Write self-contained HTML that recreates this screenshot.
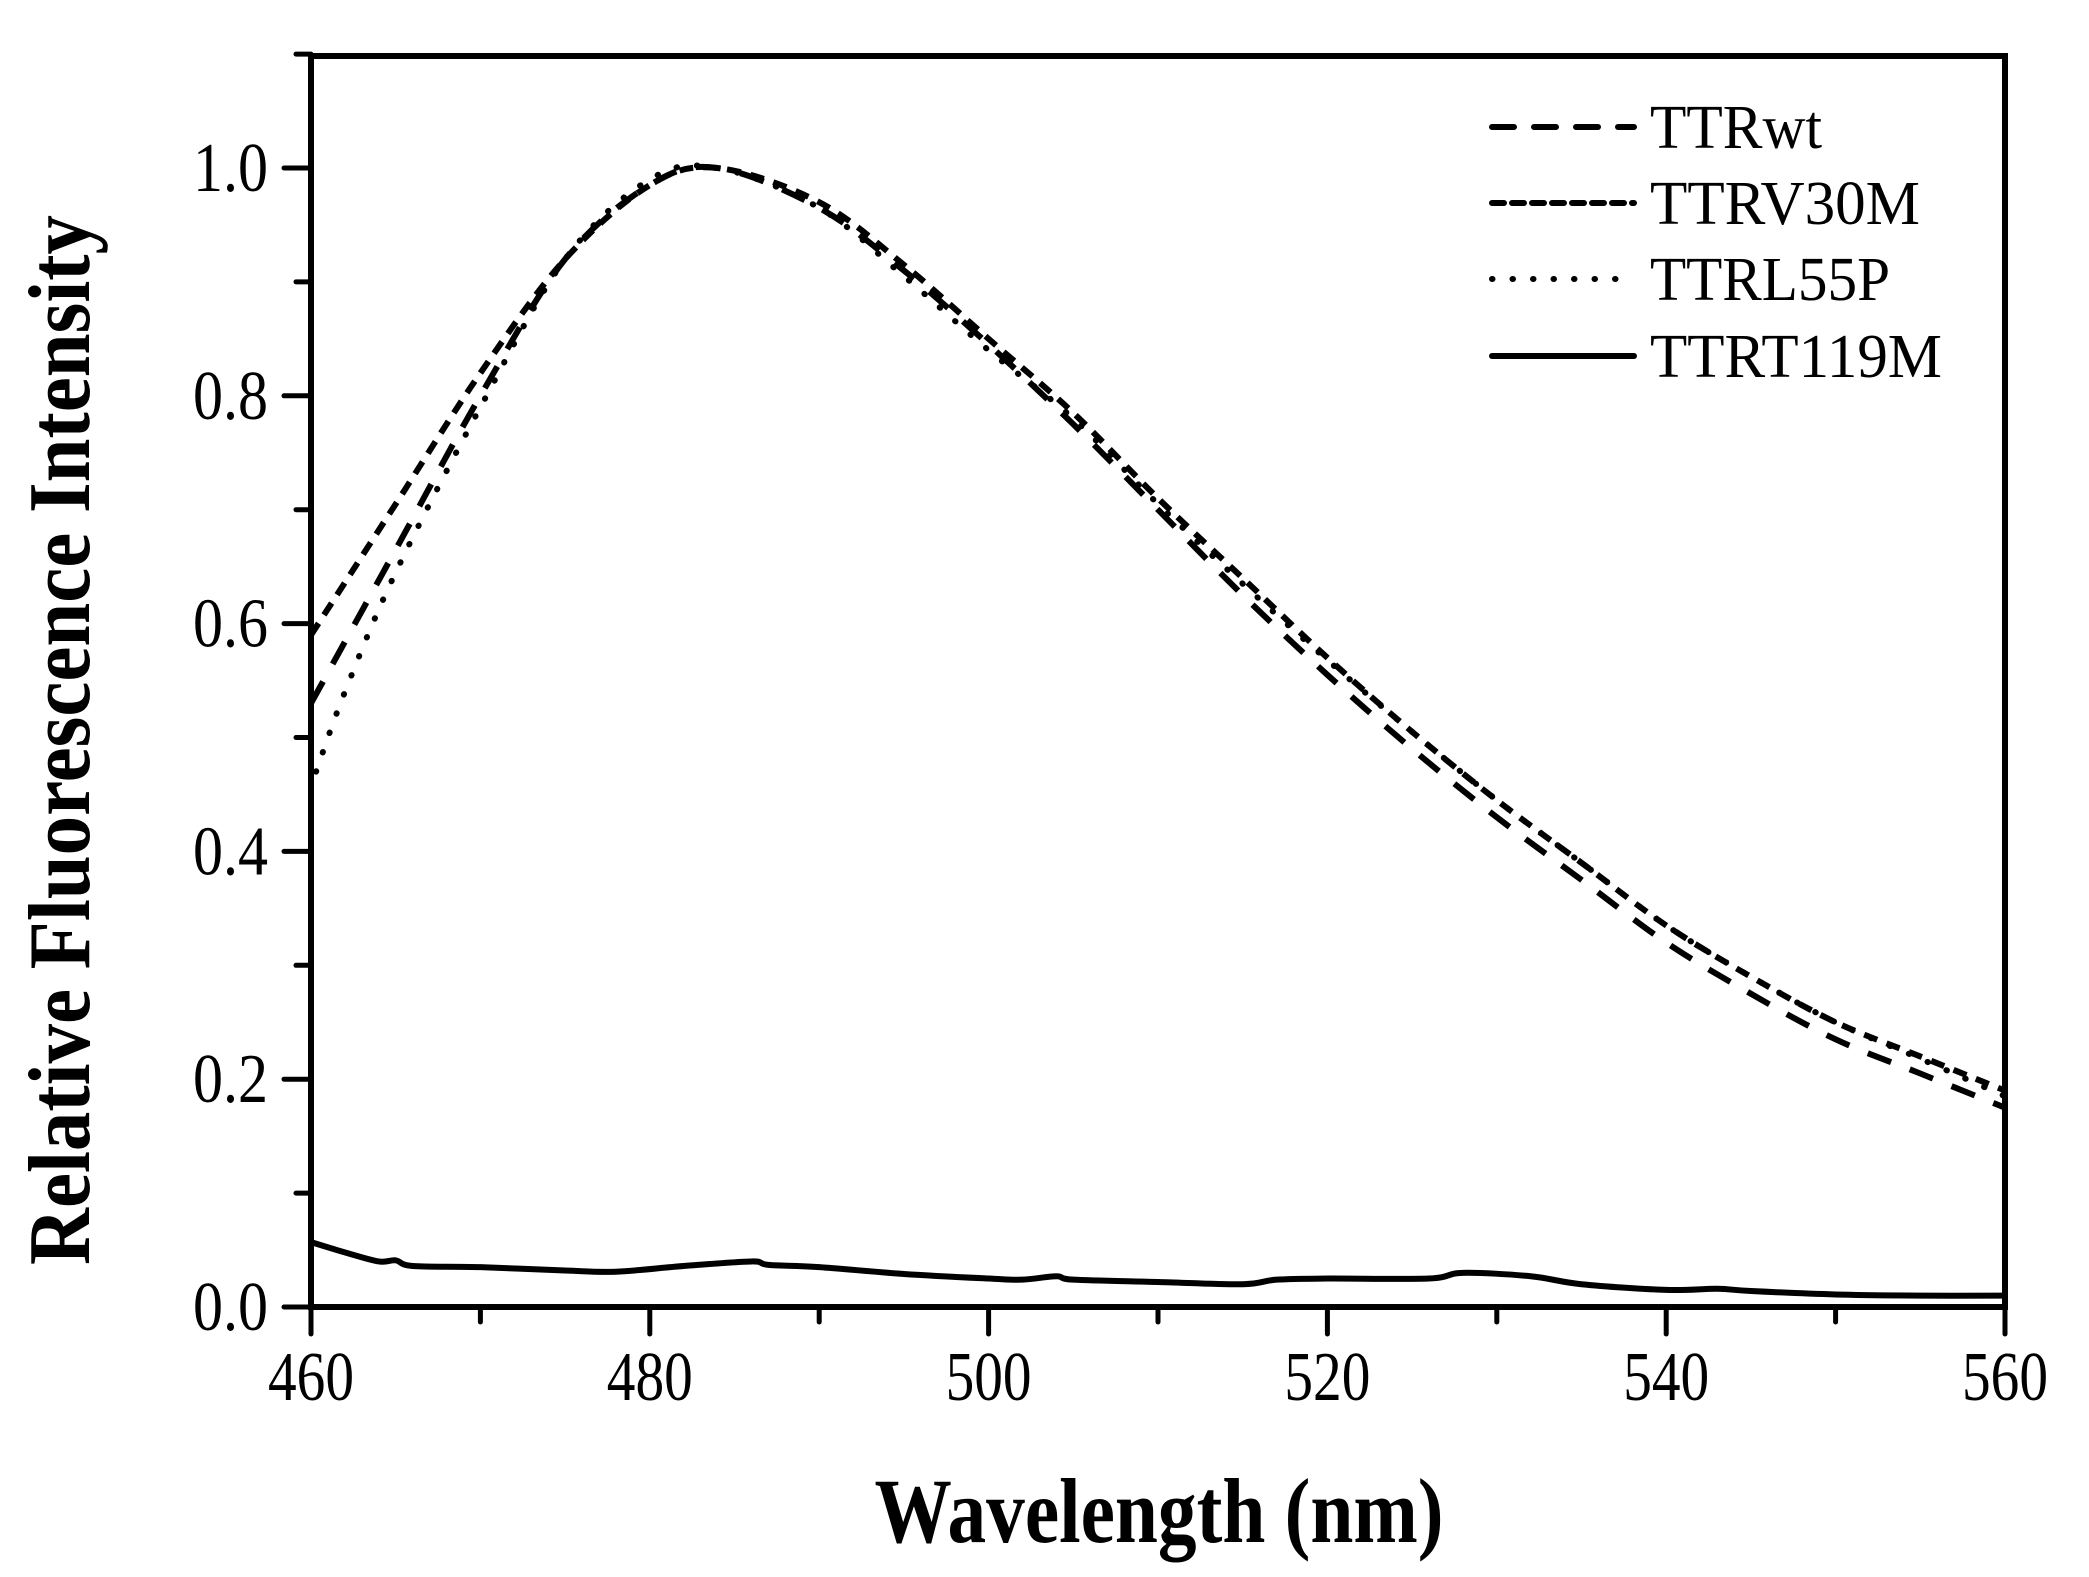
<!DOCTYPE html>
<html><head><meta charset="utf-8"><style>
html,body{margin:0;padding:0;background:#fff;}
svg{display:block;}
text{font-family:"Liberation Serif",serif;fill:#000;}
</style></head><body>
<svg id="s" width="2089" height="1577" viewBox="0 0 2089 1577" xmlns="http://www.w3.org/2000/svg">
<rect width="2089" height="1577" fill="#fff"/>
<g id="curves" fill="none" stroke="#000" stroke-width="6"></g>
<rect x="311" y="56" width="1694" height="1251" fill="none" stroke="#000" stroke-width="6"/>
<g id="ticks" stroke="#000" stroke-width="5" stroke-linecap="round"></g>
<g id="labels" font-size="70"></g>
<text x="1159" y="1542" font-size="92" font-weight="bold" text-anchor="middle" textLength="569" lengthAdjust="spacingAndGlyphs">Wavelength (nm)</text>
<text transform="translate(89,740) rotate(-90)" font-size="88" font-weight="bold" text-anchor="middle" textLength="1050" lengthAdjust="spacingAndGlyphs">Relative Fluorescence Intensity</text>
<g stroke="#000" stroke-width="6" stroke-linecap="round">
<line x1="1492" y1="127" x2="1634" y2="127" stroke-dasharray="22 20"/>
<line x1="1492" y1="203" x2="1634" y2="203" stroke-dasharray="12 8"/>
<line x1="1492" y1="279" x2="1634" y2="279" stroke-dasharray="0.5 20"/>
<line x1="1492" y1="356" x2="1634" y2="356"/>
</g>
<g font-size="62">
<text x="1650" y="148" textLength="172" lengthAdjust="spacingAndGlyphs">TTRwt</text>
<text x="1650" y="224" textLength="270" lengthAdjust="spacingAndGlyphs">TTRV30M</text>
<text x="1650" y="300" textLength="240" lengthAdjust="spacingAndGlyphs">TTRL55P</text>
<text x="1650" y="377" textLength="292" lengthAdjust="spacingAndGlyphs">TTRT119M</text>
</g>
</svg>
<script>
var NS="http://www.w3.org/2000/svg";
function X(w){return 311+(w-460)*16.94;}
function Y(v){return 1307-v*1139;}
function el(p,t,a,txt){var e=document.createElementNS(NS,t);for(var k in a)e.setAttribute(k,a[k]);if(txt!==undefined)e.textContent=txt;p.appendChild(e);return e;}
var T=document.getElementById('ticks'),L=document.getElementById('labels'),C=document.getElementById('curves');
for(var w=460;w<=560;w+=10){var maj=(w%20==0);el(T,'line',{x1:X(w),y1:1307,x2:X(w),y2:1307+(maj?27:15)});
 if(maj)el(L,'text',{x:X(w),y:1400,'text-anchor':'middle',textLength:86,lengthAdjust:'spacingAndGlyphs'},''+w);}
for(var i=0;i<=11;i++){var v=i*0.1;var maj=(i%2==0);el(T,'line',{x1:311,y1:Y(v),x2:311-(maj?27:15),y2:Y(v)});
 if(maj&&i<=10)el(L,'text',{x:268,y:Y(v)+23,'text-anchor':'end',textLength:75,lengthAdjust:'spacingAndGlyphs'},v.toFixed(1));}
function path(pts){var d='M'+X(pts[0][0])+','+Y(pts[0][1]);
 for(var i=0;i<pts.length-1;i++){var p0=pts[Math.max(0,i-1)],p1=pts[i],p2=pts[i+1],p3=pts[Math.min(pts.length-1,i+2)];
  var x0=X(p0[0]),y0=Y(p0[1]),x1=X(p1[0]),y1=Y(p1[1]),x2=X(p2[0]),y2=Y(p2[1]),x3=X(p3[0]),y3=Y(p3[1]);
  d+=' C'+(x1+(x2-x0)/6)+','+(y1+(y2-y0)/6)+' '+(x2-(x3-x1)/6)+','+(y2-(y3-y1)/6)+' '+x2+','+y2;}
 return d;}
var wt=[[460,0.53],[465,0.665],[470,0.8],[475,0.92],[480,0.985],[484,1.0],[490,0.965],[495,0.91],[500,0.845],[505,0.775],[510,0.70],[515,0.625],[520,0.555],[525,0.49],[530,0.43],[535,0.375],[540,0.32],[545,0.275],[550,0.235],[555,0.205],[560,0.175]];
var v30=[[460,0.59],[465,0.705],[470,0.82],[475,0.92],[480,0.985],[484,1.0],[490,0.97],[495,0.915],[500,0.85],[505,0.785],[510,0.71],[515,0.64],[520,0.57],[525,0.505],[530,0.445],[535,0.39],[540,0.335],[545,0.29],[550,0.25],[555,0.22],[560,0.19]];
var l55=[[460.3,0.47],[462,0.54],[465,0.645],[470,0.79],[475,0.92],[480,0.99],[484,1.0],[490,0.965],[495,0.905],[500,0.84],[505,0.78],[510,0.705],[515,0.635],[520,0.568],[525,0.505],[530,0.445],[535,0.39],[540,0.335],[545,0.29],[550,0.25],[555,0.218],[560,0.185]];
var t119=[[460,0.057],[462,0.048],[464,0.04],[465,0.041],[466,0.036],[470,0.035],[475,0.032],[478,0.031],[482,0.036],[486,0.04],[487,0.037],[490,0.035],[495,0.029],[500,0.025],[502,0.024],[504,0.027],[505,0.024],[510,0.022],[515,0.02],[517,0.024],[520,0.025],[526,0.025],[528,0.03],[532,0.027],[535,0.02],[540,0.015],[543,0.016],[545,0.014],[550,0.011],[555,0.01],[560,0.01]];
el(C,'path',{d:path(wt),'stroke-dasharray':'25 20'});
el(C,'path',{d:path(v30),'stroke-dasharray':'14 10'});
el(C,'path',{d:path(l55),'stroke-dasharray':'0.5 20','stroke-linecap':'round'});
el(C,'path',{d:path(t119)});
</script>
</body></html>
